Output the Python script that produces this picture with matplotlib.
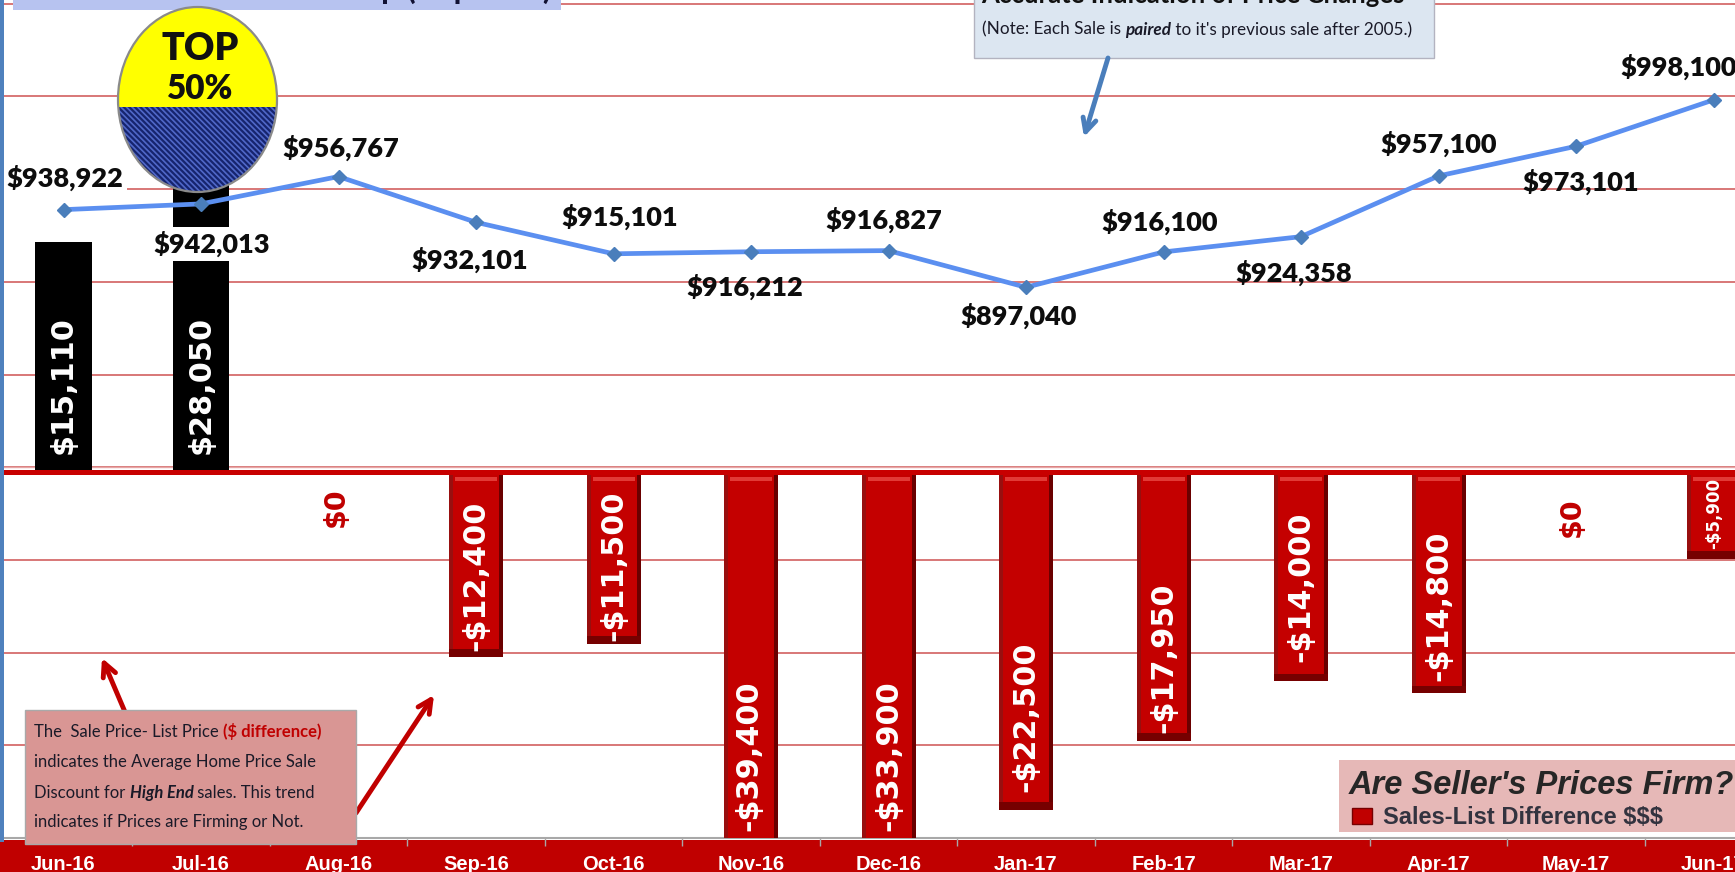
import matplotlib
matplotlib.use("Agg")
import matplotlib.pyplot as plt
from matplotlib.patches import Rectangle, Ellipse, FancyArrowPatch

W, H = 1735, 872
NARROW = ['Lato', 'DejaVu Sans']
ARIAL = ['Liberation Sans', 'DejaVu Sans']

# ---- data ----
months = ['Jun-16', 'Jul-16', 'Aug-16', 'Sep-16', 'Oct-16', 'Nov-16', 'Dec-16',
          'Jan-17', 'Feb-17', 'Mar-17', 'Apr-17', 'May-17', 'Jun-17']
avg_sale_price = [938922, 942013, 956767, 932101, 915101, 916212, 916827,
                  897040, 916100, 924358, 957100, 973101, 998100]
sale_list_diff = [15110, 28050, 0, -12400, -11500, -39400, -33900,
                  -22500, -17950, -14000, -14800, 0, -5900]

# ---- layout (pixels in the 1735x872 picture) ----
diff_label_py = [385, 385, 507, 576, 566, 756, 756, 717, 658, 587, 606, 517, 513]
diff_label_dx = [0, 0, -3, 0, 0, -2, 0, 0, 0, 0, 0, -4, 1]
price_label_px = [65, 212, 341, 470, 620, 745, 884, 1019, 1160, 1294, 1439, 1581, 1679]
price_label_py = [178, 244, 148, 260, 217, 287, 220, 316, 222, 273, 144, 182, 67]
price_label_white = [True, True, False, False, False, False, False, False, False, False, False, False, False]

X0, STEP = 63.5, 137.5
BOTTOM_PX = 838
ZERO_PX = 470
BAR_SCALE = 0.0151        # px per dollar
GRID_SCALE = 92.7 / 50000  # px per dollar, price axis
BAR_W = 54 / STEP

fig = plt.figure(figsize=(W / 100, H / 100), dpi=100, facecolor='white')
pos = [0, (H - BOTTOM_PX) / H, 1, BOTTOM_PX / H]
xlim = (-X0 / STEP, (W - X0) / STEP)
price_lim = (600000, 600000 + BOTTOM_PX / GRID_SCALE)
bar_lim = (-(BOTTOM_PX - ZERO_PX) / BAR_SCALE, ZERO_PX / BAR_SCALE)

fig.add_artist(Rectangle((0, 0), 1, (H - BOTTOM_PX - 2) / H, transform=fig.transFigure,
                         facecolor='#c00000', edgecolor='none', zorder=-5))

# grid layer with category axis
ax_grid = fig.add_axes(pos, zorder=1, facecolor='white')
ax_grid.set_yticks([600000 + 50000 * k for k in range(1, 10)])
ax_grid.tick_params(axis='y', left=False, labelleft=False)
ax_grid.grid(axis='y', color='#d66c6c', lw=1.3)
ax_grid.set_axisbelow(True)
ax_grid.set_xticks(range(len(months)))
ax_grid.set_xticklabels(months, color='white', fontweight='bold', family=ARIAL, fontsize=14.5)
ax_grid.set_xticks([i + 0.5 for i in range(-1, len(months))], minor=True)
ax_grid.tick_params(axis='x', which='major', length=0, pad=12)
ax_grid.tick_params(axis='x', which='minor', length=6, width=1, color='#a8a8a8', direction='out')
ax_grid.set_xlim(*xlim)
ax_grid.set_ylim(*price_lim)
for s in ('top', 'left', 'right'):
    ax_grid.spines[s].set_visible(False)
ax_grid.spines['bottom'].set_color('#a8a8a8')
ax_grid.spines['bottom'].set_linewidth(1.5)

# bar layer
ax_bar = fig.add_axes(pos, zorder=2, facecolor='none')
ax_bar.set_xlim(*xlim)
ax_bar.set_ylim(*bar_lim)
ax_bar.axis('off')
xs = list(range(len(months)))
strip = 4 / STEP
for x, v in zip(xs, sale_list_diff):
    if v > 0:
        ax_bar.bar(x, v, width=BAR_W * 1.04, color='black', zorder=3)
    elif v < 0:
        ax_bar.bar(x, v, width=BAR_W, color='#c40000', zorder=3)
        ax_bar.bar(x - BAR_W / 2 + strip / 2, v, width=strip, color='#980f0f', zorder=4)
        ax_bar.bar(x + BAR_W / 2 - strip / 2, v, width=strip, color='#6a0000', zorder=4)
        ax_bar.bar(x, -260, bottom=-480, width=BAR_W - 3 * strip, color='#e23a36', zorder=5)
        ax_bar.bar(x, 520, bottom=v, width=BAR_W, color='#760000', zorder=5)
# zero band
ax_bar.axhspan(-340, 20, color='#c80000', lw=0, zorder=6)
ax_bar.axhline(200, color='#e6a5a5', lw=1.0, zorder=2)

for i, v in enumerate(sale_list_diff):
    yv = (ZERO_PX - diff_label_py[i]) / BAR_SCALE
    txt = f"-${abs(v):,}" if v < 0 else f"${v:,}"
    small = i == 12
    col = '#c00000' if v == 0 else 'white'
    ax_bar.text(i + diff_label_dx[i] / STEP, yv, txt, rotation=90, ha='center', va='center',
                color=col, fontweight='bold', family='DejaVu Sans',
                fontsize=12 if small else (20.5 if v == 0 else 21.8), zorder=7)

# line layer
ax_line = fig.add_axes(pos, zorder=3, facecolor='none')
ax_line.set_xlim(*xlim)
ax_line.set_ylim(*price_lim)
ax_line.axis('off')
ax_line.plot(xs, avg_sale_price, color='#5b8ff0', lw=3.4, zorder=3, solid_capstyle='round')
ax_line.plot(xs, avg_sale_price, ls='none', marker='D', ms=7.5, mfc='#4a7ebb', mec='#4a7ebb', zorder=4)
for i, p in enumerate(avg_sale_price):
    yp = 600000 + (BOTTOM_PX - price_label_py[i]) / GRID_SCALE
    xp = (price_label_px[i] - X0) / STEP
    kw = dict(bbox=dict(facecolor='white', edgecolor='none', pad=3)) if price_label_white[i] else {}
    ax_line.text(xp, yp, f"${p:,}", ha='center', va='center', family=NARROW, fontweight='heavy',
                 fontsize=19.5, color='#0d0d0d', zorder=5, **kw)

# overlay in pixel coordinates: boxes, callouts, badge
ov = fig.add_axes([0, 0, 1, 1], zorder=4, facecolor='none')
ov.set_xlim(0, W)
ov.set_ylim(H, 0)
ov.axis('off')

ov.add_patch(Rectangle((0, 0), 3.5, 842, facecolor='#4f81bd', edgecolor='none'))
ov.add_patch(Rectangle((13, -2), 548, 12, facecolor='#b7c3f0', edgecolor='none'))
ov.text(551, -1, 'p (Top 50%)', ha='right', va='baseline', family=NARROW, fontweight='bold',
        fontsize=23, color='#111133')

ov.add_patch(Rectangle((974, -2), 460, 60, facecolor='#dce6f1', edgecolor='#b3b3c0', lw=1))
ov.text(981, 3, 'Accurate Indication of Price Changes', ha='left', va='baseline', family=NARROW,
        fontweight='bold', fontsize=18.5, color='#111111')


def run(x, y, parts, size, base_color='#1a1a28'):
    r = fig.canvas.get_renderer()
    for s, style, weight, color in parts:
        t = ov.text(x, y, s, ha='left', va='center_baseline', family=NARROW, fontsize=size,
                    fontstyle=style, fontweight=weight, color=color or base_color)
        x = t.get_window_extent(r).x1


run(982, 28, [('(Note: Each Sale is ', 'normal', 'normal', None),
              ('paired', 'italic', 'bold', None),
              (" to it's previous sale after 2005.)", 'normal', 'normal', None)], 12.3)

ov.add_patch(FancyArrowPatch((1108, 58), (1084, 137), arrowstyle='->', mutation_scale=24,
                             lw=3.5, color='#4a7ebb', shrinkA=0, shrinkB=0))
ov.add_patch(FancyArrowPatch((125, 712), (102, 658), arrowstyle='->', mutation_scale=24,
                             lw=3.5, color='#c00000', shrinkA=0, shrinkB=0))
ov.add_patch(FancyArrowPatch((356, 813), (434, 695), arrowstyle='->', mutation_scale=24,
                             lw=3.5, color='#c00000', shrinkA=0, shrinkB=0))

ov.add_patch(Rectangle((25, 710), 331, 134, facecolor='#d99694', edgecolor='#a9a9a9', lw=1))
run(34, 730, [('The  Sale Price- List Price ', 'normal', 'normal', None),
              ('($ difference)', 'normal', 'bold', '#c00000')], 12)
run(34, 760, [('indicates the Average Home Price Sale', 'normal', 'normal', None)], 12)
run(34, 791, [('Discount for ', 'normal', 'normal', None),
              ('High End', 'italic', 'bold', None),
              (' sales. This trend', 'normal', 'normal', None)], 12)
run(34, 820, [('indicates if Prices are Firming or Not.', 'normal', 'normal', None)], 12)

ov.add_patch(Rectangle((1339, 760), 400, 72, facecolor='#e6b8b7', edgecolor='none'))
ov.text(1349, 785, "Are Seller's Prices Firm?", ha='left', va='center', family=ARIAL, fontstyle='italic',
        fontweight='bold', fontsize=23.5, color='#262626')
ov.add_patch(Rectangle((1352, 808), 20, 16, facecolor='#c00000', edgecolor='#760000', lw=1))
ov.text(1383, 817, 'Sales-List Difference $$$', ha='left', va='center', family=ARIAL, fontweight='bold',
        fontsize=17, color='#33333f')

# badge
cx, cy, bw, bh, split = 197.5, 99.5, 159, 185, 107
top_e = Ellipse((cx, cy), bw, bh, facecolor='#ffff00', edgecolor='none')
ov.add_patch(top_e)
plt.rcParams['hatch.linewidth'] = 1.6
low = Rectangle((cx - bw, split), 2 * bw, bh, facecolor='#5068c8', edgecolor='#16246e', hatch='\\\\\\\\\\\\', lw=0)
ov.add_patch(low)
low.set_clip_path(top_e)
ov.add_patch(Ellipse((cx, cy), bw, bh, facecolor='none', edgecolor='#8a8a8a', lw=1.6))
ov.text(200, 49, 'TOP', ha='center', va='center', family=NARROW, fontweight='heavy', fontsize=27, color='#111111')
ov.text(200, 89, '50%', ha='center', va='center', family=NARROW, fontweight='heavy', fontsize=24, color='#111111')

fig.savefig('out.png', dpi=100, facecolor='white')
